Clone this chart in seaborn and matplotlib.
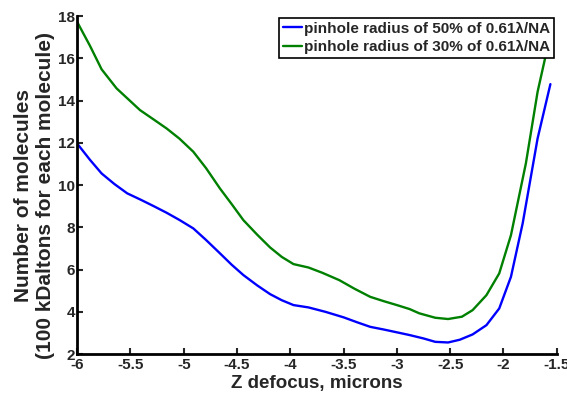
import numpy as np
import pandas as pd
import matplotlib
matplotlib.use("Agg")
import matplotlib.pyplot as plt
import seaborn as sns

# Z defocus (microns) and molecule counts
z_50 = [-6.00, -5.88, -5.77, -5.65, -5.53, -5.40, -5.28, -5.16, -5.04, -4.91,
        -4.79, -4.66, -4.55, -4.44, -4.31, -4.19, -4.08, -3.97, -3.83, -3.67,
        -3.50, -3.37, -3.25, -3.12, -3.00, -2.88, -2.75, -2.64, -2.52, -2.41,
        -2.29, -2.16, -2.04, -1.93, -1.82, -1.68, -1.56]
n_50 = [11.97, 11.20, 10.55, 10.05, 9.61, 9.30, 9.00, 8.69, 8.35, 7.95,
        7.40, 6.77, 6.23, 5.74, 5.25, 4.84, 4.55, 4.32, 4.21, 4.00,
        3.74, 3.50, 3.29, 3.16, 3.03, 2.90, 2.74, 2.58, 2.55, 2.68,
        2.93, 3.37, 4.16, 5.66, 8.19, 12.21, 14.78]

z_30 = [-6.00, -5.88, -5.77, -5.63, -5.41, -5.28, -5.16, -5.04, -4.91, -4.79,
        -4.66, -4.55, -4.44, -4.31, -4.19, -4.08, -3.97, -3.83, -3.70, -3.54,
        -3.40, -3.25, -3.12, -3.00, -2.88, -2.79, -2.64, -2.52, -2.39, -2.29,
        -2.16, -2.04, -1.93, -1.79, -1.68, -1.61, -1.55]
n_30 = [17.73, 16.60, 15.48, 14.58, 13.55, 13.10, 12.68, 12.20, 11.58, 10.80,
        9.84, 9.10, 8.34, 7.65, 7.05, 6.60, 6.26, 6.10, 5.85, 5.50,
        5.10, 4.71, 4.50, 4.32, 4.13, 3.93, 3.72, 3.66, 3.77, 4.08,
        4.79, 5.82, 7.63, 11.03, 14.42, 16.00, 17.60]

labels = ["pinhole radius of 50% of 0.61\u03bb/NA",
          "pinhole radius of 30% of 0.61\u03bb/NA"]
colors = ["#0000ff", "#008000"]

x_ticks = np.arange(-6, -1.49, 0.5)
y_ticks = np.arange(2, 18.1, 2)
x_ticklabels = ["-6", "-5.5", "-5", "-4.5", "-4", "-3.5", "-3", "-2.5", "-2", "-1.5"]

sns.set_style("ticks")
plt.rcParams["font.family"] = ["Liberation Sans", "DejaVu Sans"]
plt.rcParams["font.weight"] = "bold"

fig = plt.figure(figsize=(5.67, 3.93), dpi=100)
ax = fig.add_axes([0.136, 0.099, 0.846, 0.860])

for z, n, lab, col in zip([z_50, z_30], [n_50, n_30], labels, colors):
    df = pd.DataFrame({"z": z, "n": n})
    sns.lineplot(data=df, x="z", y="n", ax=ax, color=col, lw=1.7,
                 sort=False, estimator=None, label=lab)

ax.set_xlim(-6, -1.5)
ax.set_ylim(2, 18)
ax.set_xticks(x_ticks)
ax.set_xticklabels(x_ticklabels)
ax.set_yticks(y_ticks)
ax.tick_params(direction="in", length=4, width=1.5, labelsize=11, pad=1.5)
ax.tick_params(axis="x", pad=3)
for lbl in ax.get_xticklabels() + ax.get_yticklabels():
    lbl.set_fontweight("bold")

sns.despine(ax=ax)
for side in ["left", "bottom"]:
    ax.spines[side].set_linewidth(2)
    ax.spines[side].set_color("black")

ax.set_xlabel("Z defocus, microns", fontsize=13.5, fontweight="bold", labelpad=2)
ax.set_ylabel("Number of molecules\n(100 kDaltons for each molecule)",
              fontsize=15, fontweight="bold", linespacing=1.15)
ax.yaxis.set_label_coords(-0.047, 0.47)

leg = ax.legend(loc="upper right", bbox_to_anchor=(0.994, 0.995), fontsize=11,
                frameon=True, fancybox=False, framealpha=1, edgecolor="black",
                handlelength=1.3, handletextpad=0.1, borderpad=0.25,
                labelspacing=0.3, borderaxespad=0)
leg.get_frame().set_linewidth(1.2)
for t in leg.get_texts():
    t.set_fontweight("bold")

fig.savefig("out.png", dpi=100)
